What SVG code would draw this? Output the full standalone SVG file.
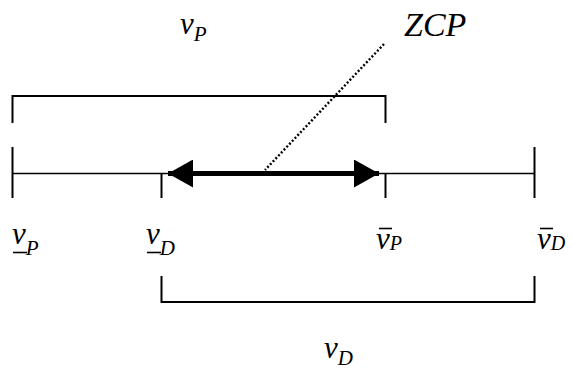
<svg xmlns="http://www.w3.org/2000/svg" width="571" height="375" viewBox="0 0 571 375">
<defs>
<style>
.ln{stroke:#000;stroke-width:2;fill:none}
.thin{stroke:#000;stroke-width:1.5;fill:none}
.lbl{font-family:'Liberation Serif','Times New Roman',serif;font-style:italic;fill:#000}
.big{font-size:31px}
.sub{font-size:21px}
.up{font-size:20px}
.bar{stroke:#000;stroke-width:1.6}
</style>
<marker id="ah" viewBox="0 0 25 28" refX="25" refY="14" markerWidth="25" markerHeight="28" markerUnits="userSpaceOnUse" orient="auto-start-reverse">
<path d="M0,0 L25,14 L0,28 Z" fill="#000"/>
</marker>
</defs>
<g id="connectors">
<line class="thin" x1="12" y1="173.5" x2="534" y2="173.5"/>
<line x1="168" y1="173.5" x2="379" y2="173.5" stroke="#000" stroke-width="5" marker-start="url(#ah)" marker-end="url(#ah)"/>
<line x1="384" y1="44" x2="265" y2="170" stroke="#000" stroke-width="2.4" stroke-dasharray="2 2"/>
</g>
<g id="bracket-vP">
<polyline class="ln" points="12.5,123 12.5,96 385.5,96 385.5,123"/>
</g>
<g id="bracket-vD">
<polyline class="ln" points="161.5,276 161.5,302 534.5,302 534.5,276"/>
</g>
<g id="ticks">
<line class="ln" x1="12.5" y1="147" x2="12.5" y2="198"/>
<line class="ln" x1="161.5" y1="173" x2="161.5" y2="198"/>
<line class="ln" x1="385.5" y1="173" x2="385.5" y2="198"/>
<line class="ln" x1="534.5" y1="147" x2="534.5" y2="198"/>
</g>
<g id="label-vP-top">
<text class="lbl" x="180" y="34"><tspan class="big">v</tspan><tspan class="sub" dy="7">P</tspan></text>
</g>
<g id="label-ZCP">
<text class="lbl" x="404" y="36" font-size="34">ZCP</text>
</g>
<g id="label-vP-low">
<text class="lbl" x="12" y="244"><tspan class="big">v</tspan><tspan class="sub" dy="11">P</tspan></text>
<line class="bar" x1="13" y1="252.5" x2="27" y2="252.5"/>
</g>
<g id="label-vD-low">
<text class="lbl" x="146" y="244"><tspan class="big">v</tspan><tspan class="sub" dy="11">D</tspan></text>
<line class="bar" x1="147" y1="252.5" x2="161" y2="252.5"/>
</g>
<g id="label-vP-high">
<text class="lbl" x="376" y="249"><tspan class="big">v</tspan><tspan class="up" dy="1">P</tspan></text>
<line class="bar" x1="379" y1="228.5" x2="392" y2="228.5"/>
</g>
<g id="label-vD-high">
<text class="lbl" x="537" y="249"><tspan class="big">v</tspan><tspan class="up" dy="1">D</tspan></text>
<line class="bar" x1="540" y1="228.5" x2="553" y2="228.5"/>
</g>
<g id="label-vD-bottom">
<text class="lbl" x="324" y="358"><tspan class="big">v</tspan><tspan class="sub" dy="7">D</tspan></text>
</g>
</svg>
